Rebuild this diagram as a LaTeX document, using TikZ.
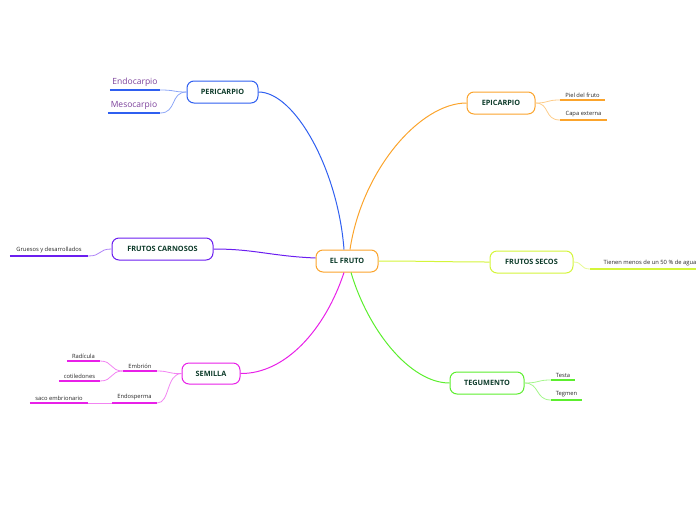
\documentclass[tikz,border=0pt]{standalone}
\usepackage{fontspec}
\setmainfont{Open Sans}
\definecolor{cblue}{HTML}{2F5FF0}
\definecolor{corange}{HTML}{FBA42C}
\definecolor{cpurple}{HTML}{6B1EF0}
\definecolor{cyellow}{HTML}{D4F53A}
\definecolor{cmagenta}{HTML}{E820E8}
\definecolor{cgreen}{HTML}{5CEE2E}
\definecolor{fgreen}{HTML}{0D3B2A}
\definecolor{lpurple}{HTML}{7B3F9A}
\begin{document}
\begin{tikzpicture}[x=1pt,y=-1pt,
  topic/.style={draw=#1, line width=1pt, rounded corners=7pt, fill=white, text=fgreen,
    font=\fontsize{7.3}{8}\selectfont\bfseries, inner sep=0pt, minimum height=22pt},
  leaf/.style={anchor=south, minimum width=#1, inner xsep=0pt, inner ysep=2.5pt,
    font=\fontsize{5.8}{6}\selectfont, text=black!85},
  bigleaf/.style={leaf=#1, font=\fontsize{8.5}{9}\selectfont, text=lpurple, inner ysep=3pt},
  mainline/.style={draw=#1, line width=1pt},
  subline/.style={draw=#1!55, line width=0.8pt},
  uline/.style={draw=#1, line width=1.3pt}
]
\useasboundingbox (0,0) rectangle (696,520);

% main topic nodes
\node[topic=corange, minimum width=62pt] (fruto) at (347,261) {EL FRUTO};
\node[topic=cblue, minimum width=71pt] (peri) at (222.5,92) {PERICARPIO};
\node[topic=corange, minimum width=68pt] (epi) at (501,103) {EPICARPIO};
\node[topic=cpurple, minimum width=101pt] (carn) at (162.5,249) {FRUTOS CARNOSOS};
\node[topic=cyellow, minimum width=83pt] (secos) at (531.5,262) {FRUTOS SECOS};
\node[topic=cmagenta, minimum width=58pt, minimum height=21pt] (sem) at (211,373.5) {SEMILLA};
\node[topic=cgreen, minimum width=74pt] (teg) at (487,383) {TEGUMENTO};

% leaves
\node[bigleaf=50pt] (endo) at (135,90) {Endocarpio};
\node[bigleaf=52pt] (meso) at (134,113) {Mesocarpio};
\node[leaf=45pt] (piel) at (582.5,100) {Piel del fruto};
\node[leaf=47pt] (capa) at (583.5,120) {Capa externa};
\node[leaf=78pt] (grue) at (49,256) {Gruesos y desarrollados};
\node[leaf=120pt] (tienen) at (650,269) {Tienen menos de un 50 \% de agua};
\node[leaf=34pt] (embr) at (140,371) {Embrión};
\node[leaf=33pt] (radi) at (83.5,361) {Radícula};
\node[leaf=41pt] (coti) at (79.5,381) {cotiledones};
\node[leaf=45pt] (endos) at (134.5,403) {Endosperma};
\node[leaf=58pt] (saco) at (59,403) {saco embrionario};
\node[leaf=24pt] (testa) at (563,380) {Testa};
\node[leaf=31pt] (tegm) at (566.5,400) {Tegmen};

% underlines
\draw[uline=cblue] (endo.south west) -- (endo.south east);
\draw[uline=cblue] (meso.south west) -- (meso.south east);
\draw[uline=corange] (piel.south west) -- (piel.south east);
\draw[uline=corange] (capa.south west) -- (capa.south east);
\draw[uline=cpurple] (grue.south west) -- (grue.south east);
\draw[uline=cyellow] (tienen.south west) -- (tienen.south east);
\draw[uline=cmagenta] (embr.south west) -- (embr.south east);
\draw[uline=cmagenta] (radi.south west) -- (radi.south east);
\draw[uline=cmagenta] (coti.south west) -- (coti.south east);
\draw[uline=cmagenta] (endos.south west) -- (endos.south east);
\draw[uline=cmagenta] (saco.south west) -- (saco.south east);
\draw[uline=cgreen] (testa.south west) -- (testa.south east);
\draw[uline=cgreen] (tegm.south west) -- (tegm.south east);

% main connectors
\draw[mainline=cblue] ([xshift=-3pt]fruto.north) .. controls (338,170) and (295,92) .. (peri.east);
\draw[mainline=corange] ([xshift=3pt]fruto.north) .. controls (362,170) and (420,103) .. (epi.west);
\draw[mainline=cpurple] ([yshift=3pt]fruto.west) .. controls (270,256) and (255,249) .. (carn.east);
\draw[mainline=cyellow] (fruto.east) .. controls (420,261) and (450,262) .. (secos.west);
\draw[mainline=cmagenta] ([xshift=-3pt]fruto.south) .. controls (325,330) and (285,374) .. (sem.east);
\draw[mainline=cgreen] ([xshift=4pt]fruto.south) .. controls (368,330) and (410,383) .. (teg.west);

% sub connectors
\draw[subline=cblue] (peri.west) .. controls (172,92) and (176,90) .. (endo.south east);
\draw[subline=cblue] (peri.west) .. controls (170,92) and (177,113) .. (meso.south east);
\draw[subline=corange] (epi.east) .. controls (550,103) and (545,100) .. (piel.south west);
\draw[subline=corange] (epi.east) .. controls (550,103) and (544,120) .. (capa.south west);
\draw[subline=cpurple] (carn.west) .. controls (98,249) and (102,256) .. (grue.south east);
\draw[subline=cyellow] (secos.east) .. controls (583,262) and (580,269) .. (tienen.south west);
\draw[subline=cmagenta] (sem.west) .. controls (168,374) and (170,371) .. (embr.south east);
\draw[subline=cmagenta] (sem.west) .. controls (166,374) and (170,403) .. (endos.south east);
\draw[subline=cmagenta] (embr.south west) .. controls (110,371) and (113,361) .. (radi.south east);
\draw[subline=cmagenta] (embr.south west) .. controls (110,371) and (113,381) .. (coti.south east);
\draw[subline=cmagenta] (endos.south west) -- (saco.south east);
\draw[subline=cgreen] (teg.east) .. controls (540,383) and (536,380) .. (testa.south west);
\draw[subline=cgreen] (teg.east) .. controls (540,383) and (535,400) .. (tegm.south west);
\end{tikzpicture}
\end{document}
